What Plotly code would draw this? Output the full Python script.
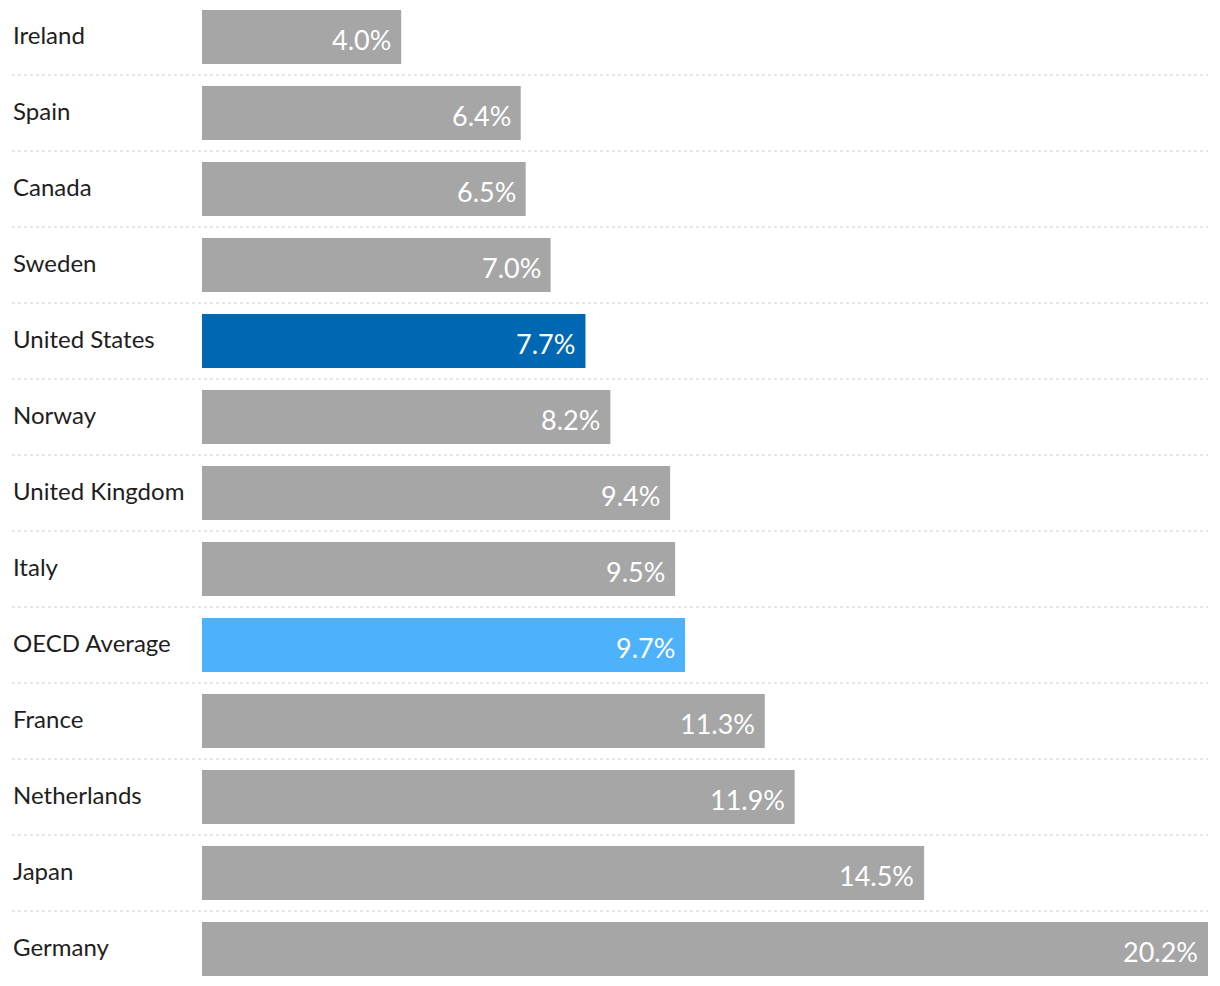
import plotly.graph_objects as go

countries = ["Ireland", "Spain", "Canada", "Sweden", "United States", "Norway",
             "United Kingdom", "Italy", "OECD Average", "France", "Netherlands",
             "Japan", "Germany"]
values = [4.0, 6.4, 6.5, 7.0, 7.7, 8.2, 9.4, 9.5, 9.7, 11.3, 11.9, 14.5, 20.2]
highlight = {"United States": "#0068b2", "OECD Average": "#4eb2fb"}
base_color = "#a6a6a6"

W, H = 1220, 986
pos = list(range(len(countries)))
colors = [highlight.get(c, base_color) for c in countries]

fig = go.Figure(go.Bar(
    x=values, y=pos, orientation="h", width=0.71,
    marker=dict(color=colors, line=dict(width=0)),
    hoverinfo="skip",
))

# x scale: bars start at pixel 202, 49.8 px per unit
px_per = (1208 - 202) / 20.2
x0 = -202 / px_per
x1 = (W - 202) / px_per
# y scale: row centre 0 at pixel 37, 76 px per row
y_top = -37 / 76
y_bot = (H - 37) / 76

annotations = []
for i, (c, v) in enumerate(zip(countries, values)):
    annotations.append(dict(
        x=11 / W, xref="paper", y=i, yref="y", text=c, showarrow=False,
        xanchor="left", yanchor="middle", yshift=3,
        font=dict(family="Lato", size=24, color="#1e1e1e")))
    annotations.append(dict(
        x=v, xref="x", y=i, yref="y", text=f"{v:.1f}%", showarrow=False,
        xanchor="right", yanchor="middle", xshift=-8, yshift=-2,
        font=dict(family="Lato", size=27, color="#ffffff")))

shapes = []
for i in range(len(countries) - 1):
    shapes.append(dict(
        type="line", xref="paper", yref="y", x0=12 / W, x1=1208 / W,
        y0=i + 0.5, y1=i + 0.5,
        line=dict(color="#cccccc", width=1, dash="dot")))

fig.update_layout(
    width=W, height=H,
    margin=dict(l=0, r=0, t=0, b=0),
    paper_bgcolor="white", plot_bgcolor="white",
    showlegend=False,
    xaxis=dict(range=[x0, x1], visible=False, fixedrange=True),
    yaxis=dict(range=[y_bot, y_top], visible=False, fixedrange=True),
    annotations=annotations, shapes=shapes,
    font=dict(family="Lato"),
)

fig.write_html("out.html", config={"displayModeBar": False})

# remove default page margin so the figure sits at the top-left corner
with open("out.html", "r", encoding="utf-8") as f:
    html = f.read()
html = html.replace("<body>", '<body style="margin:0;padding:0;overflow:hidden">', 1)
with open("out.html", "w", encoding="utf-8") as f:
    f.write(html)
